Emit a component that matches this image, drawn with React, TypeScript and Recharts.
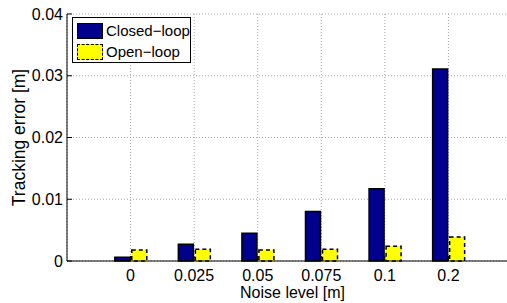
import React from 'react';
import { BarChart, Bar, XAxis, YAxis, CartesianGrid } from 'recharts';

const noiseLevels = ['0', '0.025', '0.05', '0.075', '0.1', '0.2'];
const closedLoop = [0.0006, 0.0027, 0.0045, 0.008, 0.0117, 0.0311];
const openLoop = [0.0018, 0.0019, 0.0018, 0.0019, 0.0024, 0.0039];
const yTicks = [0, 0.01, 0.02, 0.03, 0.04];

const series = [
  { key: 'closed', name: 'Closed\u2212loop', fill: '#00008f', dash: undefined },
  { key: 'open', name: 'Open\u2212loop', fill: '#ffff00', dash: '4 3' },
];

const data = noiseLevels.map((level, i) => ({
  level,
  closed: closedLoop[i],
  open: openLoop[i],
}));

const W = 530;
const H = 303;
const margin = { top: 14, right: 18, bottom: 12, left: 0 };
const yAxisWidth = 67;
const plotWidth = W - margin.left - margin.right - yAxisWidth;
// xlim runs half a bar group past each end, like MATLAB's bar()
const pad = plotWidth / 14;

const font = '"Liberation Sans", Arial, Helvetica, sans-serif';
const tickStyle = { fill: '#000', fontSize: 16, fontFamily: font };

const LegendBox = () => (
  <div
    style={{
      position: 'absolute',
      left: 72,
      top: 17,
      width: 117,
      height: 44,
      border: '1px solid #000',
      background: '#fff',
      fontFamily: font,
      fontSize: 15,
      color: '#000',
    }}
  >
    {series.map((s, i) => (
      <div
        key={s.key}
        style={{ position: 'absolute', left: 4, top: 4 + i * 21, display: 'flex', alignItems: 'center' }}
      >
        <span
          style={{
            display: 'inline-block',
            width: 24,
            height: 14,
            background: s.fill,
            border: s.dash ? '1.5px dashed #000' : '1.5px solid #000',
            marginRight: 3,
          }}
        />
        <span style={{ lineHeight: '17px' }}>{s.name}</span>
      </div>
    ))}
  </div>
);

export default function App() {
  return (
    <div
      style={{
        position: 'absolute',
        left: 0,
        top: 0,
        width: 507,
        height: 303,
        overflow: 'hidden',
        background: '#fff',
      }}
    >
      <BarChart width={W} height={H} data={data} margin={margin} barSize={15} barGap={2}>
        <CartesianGrid stroke="#a8a8a8" strokeDasharray="1 2" />
        <XAxis
          dataKey="level"
          xAxisId="top"
          orientation="top"
          height={0}
          padding={{ left: pad, right: pad }}
          axisLine={{ stroke: '#000' }}
          tickLine={{ stroke: '#000' }}
          tickSize={-5}
          tickFormatter={() => ''}
        />
        <XAxis
          dataKey="level"
          height={30}
          padding={{ left: pad, right: pad }}
          axisLine={{ stroke: '#000' }}
          tickLine={{ stroke: '#000' }}
          tickSize={-5}
          tickMargin={14}
          tick={tickStyle}
          label={{ value: 'Noise level [m]', position: 'insideBottom', offset: -7, dx: 3, style: tickStyle }}
        />
        <YAxis
          width={yAxisWidth}
          domain={[0, 0.04]}
          ticks={yTicks}
          interval={0}
          axisLine={{ stroke: '#000' }}
          tickLine={{ stroke: '#000' }}
          tickSize={-5}
          tickMargin={9}
          tick={tickStyle}
          tickFormatter={(v: number) => String(v)}
          label={{
            value: 'Tracking error [m]',
            angle: -90,
            position: 'center',
            dx: -14.5,
            style: { ...tickStyle, fontSize: 17.5 },
          }}
        />
        {series.map((s) => (
          <Bar
            key={s.key}
            dataKey={s.key}
            name={s.name}
            fill={s.fill}
            stroke="#000"
            strokeWidth={1.5}
            strokeDasharray={s.dash}
            isAnimationActive={false}
          />
        ))}
      </BarChart>
      <LegendBox />
    </div>
  );
}
